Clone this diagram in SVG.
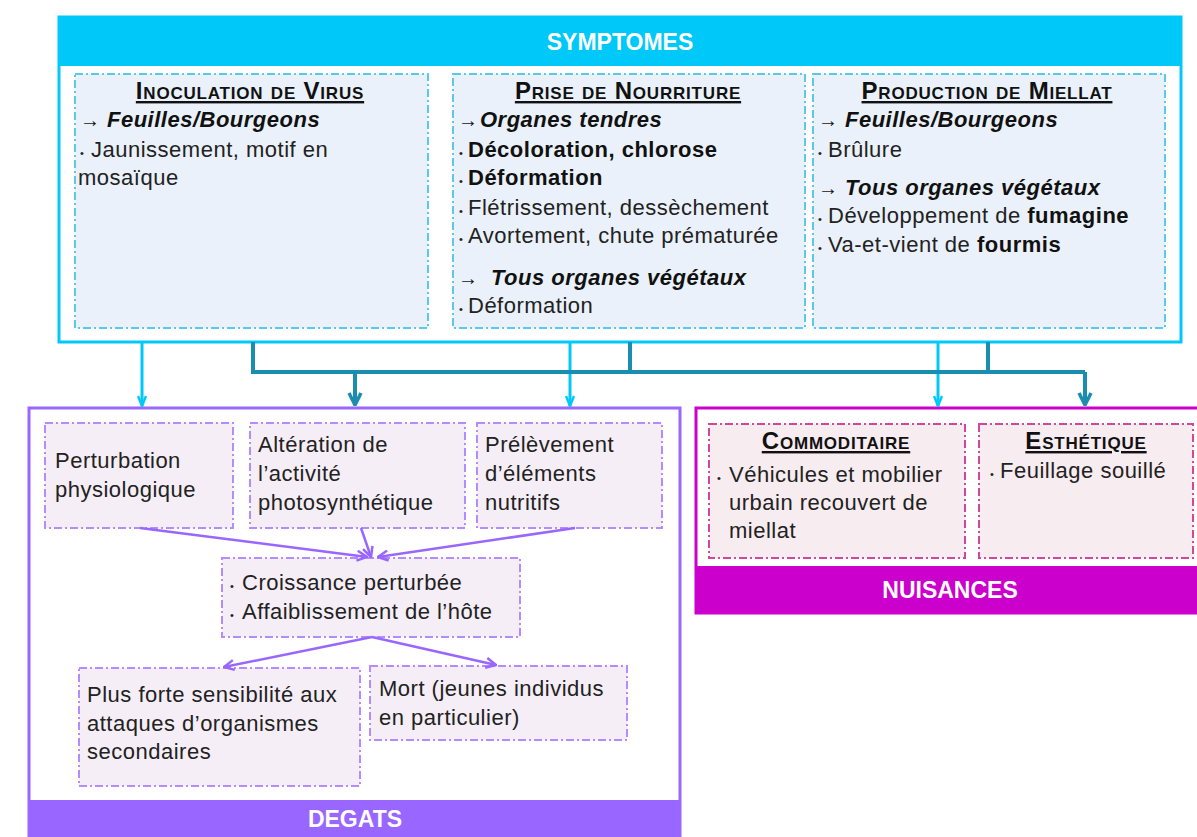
<svg xmlns="http://www.w3.org/2000/svg" width="1197" height="837" viewBox="0 0 1197 837">
<defs>
<style>
text{font-family:"Liberation Sans",Arial,sans-serif;font-size:22px;letter-spacing:0.5px;fill:#222}
.hd{font-size:23px;font-weight:bold;fill:#fff;text-anchor:middle;letter-spacing:0}
.tt{font-size:24px;font-weight:bold;font-variant:small-caps;text-decoration:underline;text-anchor:middle;fill:#111;letter-spacing:0.8px}
.bi{font-weight:bold;font-style:italic;fill:#111}
.b{font-weight:bold;fill:#111}
.bul{font-size:11px}
.arr{font-size:20px}
.ib{fill:#EAF1FA;stroke:#5CC8F0;stroke-width:2;stroke-dasharray:8 3 2 3}
.ip{fill:#F5EEF6;stroke:#B38CFF;stroke-width:2;stroke-dasharray:8 3 2 3}
.im{fill:#F7ECF0;stroke:#D2479C;stroke-width:2;stroke-dasharray:8 3 2 3}
.cy{stroke:#00C8F8;stroke-width:3;fill:none}
.tl{stroke:#1B8DB0;stroke-width:4;fill:none}
.pu{stroke:#9966FF;stroke-width:2.5;fill:none}
</style>
<marker id="mcy" viewBox="0 0 12 10" refX="11" refY="5" markerWidth="12" markerHeight="10" markerUnits="userSpaceOnUse" orient="auto"><path d="M1,1 L11,5 L1,9" fill="none" stroke="#00C8F8" stroke-width="2.5"/></marker>
<marker id="mtl" viewBox="0 0 14 14" refX="13" refY="7" markerWidth="14" markerHeight="16" markerUnits="userSpaceOnUse" orient="auto"><path d="M1,1 L13,7 L1,13" fill="none" stroke="#1B8DB0" stroke-width="3.5"/></marker>
<marker id="mpu" viewBox="0 0 12 12" refX="11" refY="6" markerWidth="12" markerHeight="12" markerUnits="userSpaceOnUse" orient="auto"><path d="M1,1 L11,6 L1,11" fill="none" stroke="#9966FF" stroke-width="2.5"/></marker>
</defs>
<rect width="1197" height="837" fill="#fff"/>

<g id="symptomes">
<rect x="59" y="17" width="1122" height="325" fill="#fff" stroke="#00C8F8" stroke-width="3"/>
<rect x="59" y="17" width="1122" height="49" fill="#00C8F8"/>
<text class="hd" x="620" y="50">SYMPTOMES</text>
</g>

<g id="inoculation">
<rect class="ib" x="75" y="74" width="353" height="254"/>
<text class="tt" x="250" y="99">Inoculation de Virus</text>
<text x="80" y="127"><tspan class="arr b">→</tspan><tspan class="bi" x="107">Feuilles/Bourgeons</tspan></text>
<text x="80" y="157"><tspan class="bul">•</tspan><tspan x="91">Jaunissement, motif en</tspan></text>
<text x="78" y="185">mosaïque</text>
</g>

<g id="nourriture">
<rect class="ib" x="453" y="74" width="352" height="254"/>
<text class="tt" x="628" y="99">Prise de Nourriture</text>
<text x="458" y="127"><tspan class="arr b">→</tspan><tspan class="bi" x="480">Organes tendres</tspan></text>
<text x="459" y="157"><tspan class="bul">•</tspan><tspan class="b" x="468">Décoloration, chlorose</tspan></text>
<text x="459" y="185"><tspan class="bul">•</tspan><tspan class="b" x="468">Déformation</tspan></text>
<text x="459" y="215"><tspan class="bul">•</tspan><tspan x="468">Flétrissement, dessèchement</tspan></text>
<text x="459" y="243"><tspan class="bul">•</tspan><tspan x="468">Avortement, chute prématurée</tspan></text>
<text x="458" y="285"><tspan class="arr b">→</tspan><tspan class="bi" x="491">Tous organes végétaux</tspan></text>
<text x="459" y="313"><tspan class="bul">•</tspan><tspan x="468">Déformation</tspan></text>
</g>

<g id="miellat">
<rect class="ib" x="813" y="74" width="352" height="254"/>
<text class="tt" x="987" y="99">Production de Miellat</text>
<text x="818" y="127"><tspan class="arr b">→</tspan><tspan class="bi" x="845">Feuilles/Bourgeons</tspan></text>
<text x="818" y="157"><tspan class="bul">•</tspan><tspan x="828">Brûlure</tspan></text>
<text x="818" y="195"><tspan class="arr b">→</tspan><tspan class="bi" x="845">Tous organes végétaux</tspan></text>
<text x="818" y="223"><tspan class="bul">•</tspan><tspan x="828">Développement de </tspan><tspan class="b">fumagine</tspan></text>
<text x="818" y="252"><tspan class="bul">•</tspan><tspan x="828">Va-et-vient de </tspan><tspan class="b">fourmis</tspan></text>
</g>

<g id="degats">
<rect x="29" y="408" width="651" height="431" fill="#fff" stroke="#9966FF" stroke-width="3"/>
<rect x="29" y="800" width="651" height="39" fill="#9966FF"/>
<text class="hd" x="355" y="827">DEGATS</text>
</g>

<g id="perturbation">
<rect class="ip" x="45" y="423" width="188" height="105"/>
<text x="55" y="468">Perturbation</text>
<text x="55" y="497">physiologique</text>
</g>
<g id="alteration">
<rect class="ip" x="250" y="423" width="215" height="105"/>
<text x="258" y="452">Altération de</text>
<text x="258" y="481">l’activité</text>
<text x="258" y="510">photosynthétique</text>
</g>
<g id="prelevement">
<rect class="ip" x="477" y="423" width="185" height="105"/>
<text x="485" y="452">Prélèvement</text>
<text x="485" y="481">d’éléments</text>
<text x="485" y="510">nutritifs</text>
</g>
<g id="croissance">
<rect class="ip" x="222" y="558" width="298" height="79"/>
<text x="230" y="590"><tspan class="bul">•</tspan><tspan x="242">Croissance perturbée</tspan></text>
<text x="230" y="619"><tspan class="bul">•</tspan><tspan x="242">Affaiblissement de l’hôte</tspan></text>
</g>
<g id="sensibilite">
<rect class="ip" x="79" y="668" width="281" height="118"/>
<text x="87" y="702">Plus forte sensibilité aux</text>
<text x="87" y="731">attaques d’organismes</text>
<text x="87" y="759">secondaires</text>
</g>
<g id="mort">
<rect class="ip" x="370" y="666" width="257" height="74"/>
<text x="379" y="696">Mort (jeunes individus</text>
<text x="379" y="725">en particulier)</text>
</g>

<g id="nuisances">
<rect x="696" y="408" width="503" height="205" fill="#fff" stroke="#CC00CC" stroke-width="3"/>
<rect x="696" y="566" width="503" height="47" fill="#CC00CC"/>
<text class="hd" x="950" y="598">NUISANCES</text>
</g>
<g id="commoditaire">
<rect class="im" x="709" y="424" width="256" height="134"/>
<text class="tt" x="836" y="449">Commoditaire</text>
<text x="717" y="482"><tspan class="bul">•</tspan><tspan x="729">Véhicules et mobilier</tspan></text>
<text x="729" y="510">urbain recouvert de</text>
<text x="729" y="538">miellat</text>
</g>
<g id="esthetique">
<rect class="im" x="979" y="424" width="214" height="134"/>
<text class="tt" x="1086" y="449">Esthétique</text>
<text x="990" y="478"><tspan class="bul">•</tspan><tspan x="1000">Feuillage souillé</tspan></text>
</g>

<g id="connectors">
<path class="cy" d="M142,343 V406" marker-end="url(#mcy)"/>
<path class="cy" d="M570,343 V406" marker-end="url(#mcy)"/>
<path class="cy" d="M938,343 V406" marker-end="url(#mcy)"/>
<path class="tl" d="M253,342 V372 H1085"/>
<path class="tl" d="M630,342 V372"/>
<path class="tl" d="M988,342 V372"/>
<path class="tl" d="M355,372 V405" marker-end="url(#mtl)"/>
<path class="tl" d="M1085,372 V405" marker-end="url(#mtl)"/>
<path class="pu" d="M140,528 L367,557" marker-end="url(#mpu)"/>
<path class="pu" d="M361,528 L371,557" marker-end="url(#mpu)"/>
<path class="pu" d="M575,528 L378,557" marker-end="url(#mpu)"/>
<path class="pu" d="M372,637 L224,667" marker-end="url(#mpu)"/>
<path class="pu" d="M372,637 L496,665" marker-end="url(#mpu)"/>
</g>
</svg>
